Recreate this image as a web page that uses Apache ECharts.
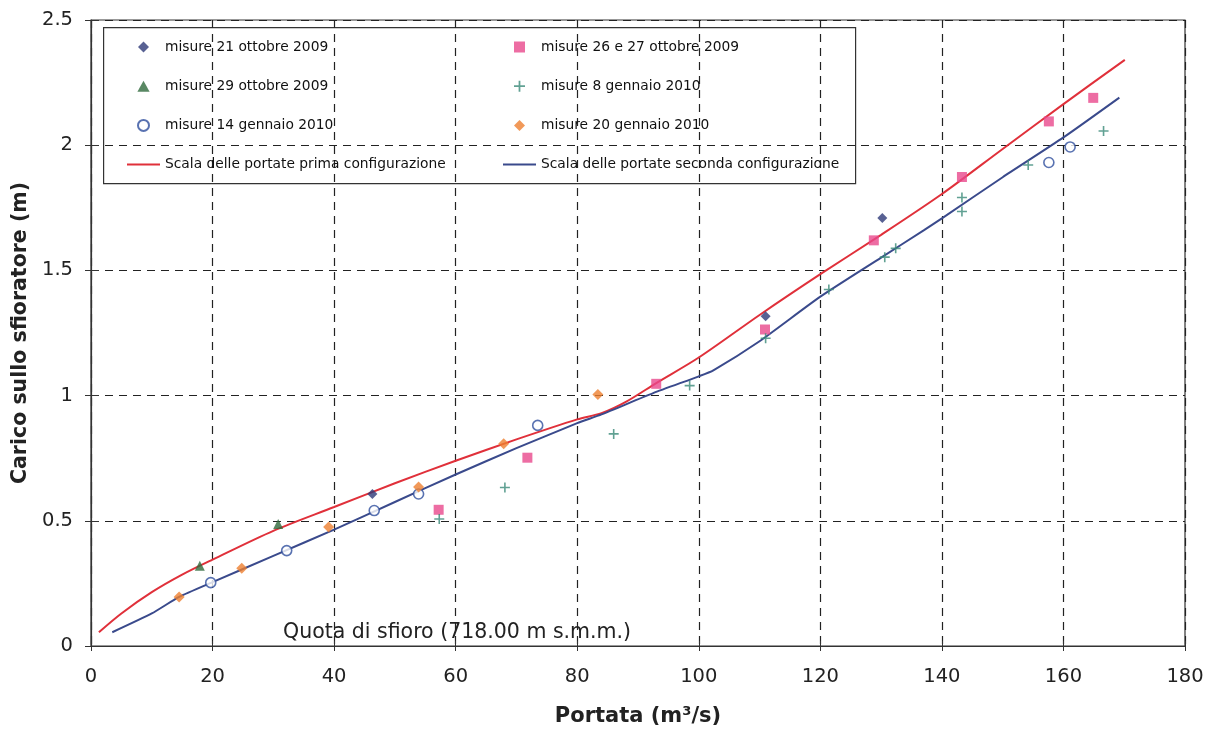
<!DOCTYPE html>
<html>
<head>
<meta charset="utf-8">
<script src="https://cdn.jsdelivr.net/npm/echarts@6/dist/echarts.min.js"></script>
<style>
  html, body { margin: 0; padding: 0; background: #fff; }
  #chart { width: 1213px; height: 729px; }
</style>
</head>
<body>
<div id="chart"></div>
<script>
// Misure di portata [Q (m3/s), carico (m)]
const misure21Ott2009 = [[46.3, 0.607], [111.0, 1.317], [130.2, 1.709]];
const misure29Ott2009 = [[17.9, 0.320], [30.8, 0.487]];
const misure14Gen2010 = [[19.7, 0.253], [32.2, 0.381], [46.6, 0.541], [53.9, 0.607], [73.5, 0.881], [157.6, 1.931], [161.1, 1.993]];
const misure2627Ott2009 = [[57.2, 0.544], [71.8, 0.752], [93.0, 1.047], [110.9, 1.264], [128.8, 1.620], [143.3, 1.873], [157.6, 2.095], [164.9, 2.189]];
const misure8Gen2010 = [[57.3, 0.507], [68.1, 0.633], [86.0, 0.847], [98.5, 1.040], [111.0, 1.229], [121.4, 1.424], [130.6, 1.553], [132.4, 1.588], [143.3, 1.735], [143.3, 1.791], [154.2, 1.921], [166.6, 2.057]];
const misure20Gen2010 = [[14.5, 0.196], [24.8, 0.311], [39.1, 0.475], [53.9, 0.635], [67.9, 0.808], [83.4, 1.004]];

// Scale delle portate
const scalaPrima = [[1.3, 0.055], [5, 0.13], [10, 0.215], [15, 0.285], [20, 0.345], [30, 0.46], [40, 0.555], [50, 0.65], [60, 0.74], [70, 0.825], [80, 0.905], [84, 0.93], [88, 0.975], [93, 1.05], [100, 1.152], [110, 1.322], [120, 1.485], [130, 1.642], [140, 1.805], [150, 1.985], [160, 2.164], [170.1, 2.341]];
const scalaSeconda = [[3.5, 0.055], [10, 0.13], [14.5, 0.196], [20, 0.255], [30, 0.36], [40, 0.465], [50, 0.575], [60, 0.685], [70, 0.79], [80, 0.89], [84, 0.925], [92.5, 1.01], [100, 1.077], [102.4, 1.101], [110, 1.217], [120, 1.395], [130, 1.551], [137, 1.66], [140, 1.708], [150, 1.872], [160, 2.031], [169.2, 2.19]];

const xTicks = { min: 0, max: 180, interval: 20 };
const yTicks = { min: 0, max: 2.5, interval: 0.5 };

const FONT = 'DejaVu Sans';

// Simboli come tracciati, così la legenda ne conserva le proporzioni
const SYM = {
  diamond: 'path://M5,0 L10,5 L5,10 L0,5 Z',
  triangle: 'path://M5,0 L10,9 L0,9 Z',
  circle: 'path://M5,0 A5,5 0 1 1 4.99,0 Z',
  square: 'path://M0,0 H10 V10 H0 Z',
  plus: 'path://M4.2,0 H5.8 V4.2 H10 V5.8 H5.8 V10 H4.2 V5.8 H0 V4.2 H4.2 Z',
  line: 'path://M0,0 H33 V2 H0 Z'
};

const chart = echarts.init(document.getElementById('chart'), null, { renderer: 'canvas' });

const scatter = (name, data, symbol, color, size, extra) => Object.assign({
  name, type: 'scatter', data, symbol, symbolSize: size,
  itemStyle: { color }, z: 5
}, extra || {});

const legendCommon = {
  orient: 'vertical', top: 40, padding: 0, itemWidth: 33, itemHeight: 11, itemGap: 25.2,
  symbolKeepAspect: true,
  textStyle: { fontFamily: FONT, fontSize: 13.8, color: '#111' },
  selectedMode: false
};

const axisTextColor = '#222';
const gridLine = { show: true, lineStyle: { type: [8, 6], color: '#222', width: 1.2 } };

chart.setOption({
  animation: false,
  backgroundColor: '#fff',
  grid: { left: 91, right: 28, top: 20, bottom: 83, show: true, borderColor: '#333', borderWidth: 1.2, outerBoundsMode: 'none' },
  xAxis: [{
    type: 'value', min: xTicks.min, max: xTicks.max, interval: xTicks.interval,
    name: 'Portata (m³/s)', nameLocation: 'middle', nameGap: 60,
    nameTextStyle: { fontFamily: FONT, fontSize: 21, fontWeight: 'bold', color: axisTextColor },
    axisLine: { lineStyle: { color: '#333', width: 1.2 } },
    axisTick: { show: true, length: 5, lineStyle: { color: '#333' } },
    axisLabel: { fontFamily: FONT, fontSize: 19.5, color: axisTextColor, margin: 21 },
    splitLine: gridLine
  }, {
    // tacche interne dell'asse orizzontale
    type: 'value', position: 'bottom', min: xTicks.min, max: xTicks.max, interval: xTicks.interval,
    axisLine: { show: false }, axisLabel: { show: false }, splitLine: { show: false },
    axisTick: { show: true, inside: true, length: 5, lineStyle: { color: '#333' } }
  }],
  yAxis: [{
    type: 'value', min: yTicks.min, max: yTicks.max, interval: yTicks.interval,
    name: 'Carico sullo sfioratore (m)', nameLocation: 'middle', nameGap: 57, nameRotate: 90,
    nameTextStyle: { fontFamily: FONT, fontSize: 20.5, fontWeight: 'bold', color: axisTextColor },
    axisLine: { show: true, lineStyle: { color: '#333', width: 1.2 } },
    axisTick: { show: true, length: 6, lineStyle: { color: '#333' } },
    axisLabel: { fontFamily: FONT, fontSize: 19.5, color: axisTextColor, margin: 18 },
    splitLine: gridLine
  }, {
    // tacche interne dell'asse verticale
    type: 'value', position: 'left', min: yTicks.min, max: yTicks.max, interval: yTicks.interval,
    axisLine: { show: false }, axisLabel: { show: false }, splitLine: { show: false },
    axisTick: { show: true, inside: true, length: 8, lineStyle: { color: '#333' } }
  }],
  legend: [
    Object.assign({}, legendCommon, {
      left: 127,
      data: ['misure 21 ottobre 2009', 'misure 29 ottobre 2009', 'misure 14 gennaio 2010',
        { name: 'Scala delle portate prima configurazione', icon: SYM.line }]
    }),
    Object.assign({}, legendCommon, {
      left: 503,
      data: ['misure 26 e 27 ottobre 2009', 'misure 8 gennaio 2010', 'misure 20 gennaio 2010',
        { name: 'Scala delle portate seconda configurazione', icon: SYM.line }]
    })
  ],
  graphic: [
    {
      type: 'rect', left: 103, top: 27, z: 0,
      shape: { width: 752, height: 156 },
      style: { fill: '#fff', stroke: '#333', lineWidth: 1.2 }
    },
    {
      type: 'text', left: 283, top: 622, z: 10,
      style: { text: 'Quota di sfioro (718.00 m s.m.m.)', fontFamily: FONT, fontSize: 20.5, fill: '#222' }
    }
  ],
  series: [
    {
      name: 'Scala delle portate prima configurazione', type: 'line', data: scalaPrima,
      smooth: 0.3, symbol: 'none', lineStyle: { color: '#E0303A', width: 2 }, itemStyle: { color: '#E0303A' }, z: 3
    },
    {
      name: 'Scala delle portate seconda configurazione', type: 'line', data: scalaSeconda,
      smooth: 0.2, symbol: 'none', lineStyle: { color: '#3A4A8C', width: 2 }, itemStyle: { color: '#3A4A8C' }, z: 3
    },
    scatter('misure 21 ottobre 2009', misure21Ott2009, SYM.diamond, '#2E3A78', 10),
    scatter('misure 29 ottobre 2009', misure29Ott2009, SYM.triangle, '#2F6A3C', 10),
    scatter('misure 14 gennaio 2010', misure14Gen2010, SYM.circle, '#fff', 10,
      { itemStyle: { color: '#fff', borderColor: '#2F4F9E', borderWidth: 1.6 } }),
    scatter('misure 26 e 27 ottobre 2009', misure2627Ott2009, SYM.square, '#E8488C', 10),
    scatter('misure 8 gennaio 2010', misure8Gen2010, SYM.plus, '#3A8A78', 10),
    scatter('misure 20 gennaio 2010', misure20Gen2010, SYM.diamond, '#EE7F30', 11)
  ]
});
</script>
</body>
</html>
